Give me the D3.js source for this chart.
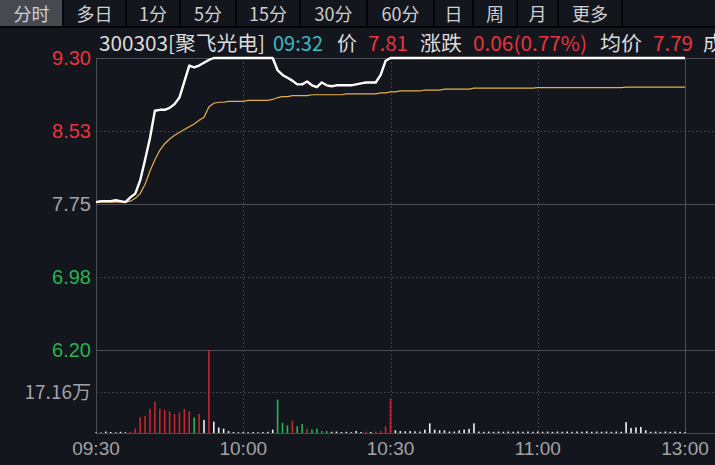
<!DOCTYPE html>
<meta charset="utf-8">
<head>
  <title>分时</title>
</head>
<style>
body { margin: 0; background: #14161d; }
svg { display: block; font-family: "Noto Sans CJK SC", "Liberation Sans", sans-serif; }
</style>
<body>
<svg width="715" height="465"></svg>
<script src="https://cdnjs.cloudflare.com/ajax/libs/d3/7.8.5/d3.min.js"></script>
<script>
// tabs
var tabs = ['分时', '多日', '1分', '5分', '15分', '30分', '60分', '日', '周', '月', '更多'];
var tabEdges = [0, 63, 126, 180, 236, 300, 367, 434, 473, 517, 558, 622];

// price axis labels
var priceTicks = [9.30, 8.53, 7.75, 6.98, 6.20];
var volTick = 17.16;
var timeLabels = ['09:30', '10:00', '10:30', '11:00', '13:00'];
var timeMinutes = [0, 30, 60, 90, 120];

// per minute price (09:30 .. 11:30)
var price = [
  7.77, 7.78, 7.78, 7.78, 7.79, 7.78, 7.77,
  7.82, 7.86, 8.00, 8.22, 8.45, 8.74,
  8.75, 8.75, 8.77, 8.81, 8.88, 9.05, 9.22, 9.20, 9.22, 9.25, 9.28,
  9.30, 9.30, 9.30, 9.30, 9.30, 9.30, 9.30, 9.30, 9.30, 9.30, 9.30, 9.30, 9.30,
  9.17, 9.12, 9.09, 9.06, 9.02, 9.02, 9.05, 9.01, 8.99, 9.04, 9.01, 9.00, 9.01, 9.01,
  9.01, 9.01, 9.02, 9.03, 9.04, 9.04, 9.04, 9.12, 9.27,
  9.30, 9.30, 9.30, 9.30, 9.30, 9.30, 9.30, 9.30, 9.30, 9.30, 9.30, 9.30, 9.30, 9.30, 9.30,
  9.30, 9.30, 9.30, 9.30, 9.30, 9.30, 9.30, 9.30, 9.30, 9.30, 9.30, 9.30, 9.30, 9.30, 9.30,
  9.30, 9.30, 9.30, 9.30, 9.30, 9.30, 9.30, 9.30, 9.30, 9.30, 9.30, 9.30, 9.30, 9.30, 9.30,
  9.30, 9.30, 9.30, 9.30, 9.30, 9.30, 9.30, 9.30, 9.30, 9.30, 9.30, 9.30, 9.30, 9.30, 9.30,
  9.30
];

// per minute average price
var avgPrice = [
  7.77, 7.77, 7.77, 7.77, 7.77, 7.77, 7.77,
  7.78, 7.81, 7.86, 7.96, 8.10, 8.22,
  8.32, 8.39, 8.44, 8.48, 8.51, 8.54, 8.57, 8.60, 8.64, 8.67, 8.78,
  8.82, 8.83, 8.83, 8.84, 8.84, 8.84, 8.84, 8.85, 8.85, 8.85, 8.85, 8.85, 8.86,
  8.88, 8.89, 8.89, 8.90, 8.90, 8.90, 8.90, 8.91, 8.91, 8.91, 8.91, 8.91, 8.91, 8.91,
  8.92, 8.92, 8.92, 8.92, 8.92, 8.92, 8.92, 8.93, 8.93,
  8.94, 8.94, 8.95, 8.95, 8.95, 8.95, 8.95, 8.96, 8.96, 8.96, 8.96, 8.97, 8.97, 8.97, 8.97,
  8.97, 8.97, 8.98, 8.98, 8.98, 8.98, 8.98, 8.98, 8.98, 8.98, 8.98, 8.98, 8.98, 8.98, 8.98,
  8.985, 8.985, 8.985, 8.985, 8.985, 8.985, 8.985, 8.985, 8.985, 8.985, 8.985, 8.985, 8.985, 8.985, 8.985,
  8.985, 8.985, 8.985, 8.99, 8.99, 8.99, 8.99, 8.99, 8.99, 8.99, 8.99, 8.99, 8.99, 8.99, 8.99,
  8.99
];

// per minute volume (万) and direction r=up g=down e=flat
var volume = [
  0.3, 0.2, 0.6, 0.4, 0.3, 0.5, 0.3,
  0.5, 1.8, 6.5, 7.1, 10.0, 13.0, 10.0, 9.6, 8.9, 7.9, 8.5, 9.9, 8.9,
  6.4, 7.9, 5.4, 34.3, 4.7, 2.3, 1.8, 0.8,
  0.4, 0.3, 0.4, 0.3, 0.4, 0.3, 0.4, 0.5, 1.4,
  13.8, 4.2, 3.2, 5.1, 2.8, 3.7, 1.8, 1.4, 1.8, 0.8, 0.8,
  0.5, 0.6, 0.4, 0.5, 0.3, 0.8, 0.4, 0.5, 0.4, 0.6, 0.9, 2.8, 14.1,
  1.1, 0.8, 0.7, 0.8, 0.7, 0.6, 1.4, 4.0, 1.4, 1.1, 1.1, 0.6, 0.6, 1.1, 1.4, 1.7, 4.0,
  0.6, 0.5, 0.6, 0.5, 0.6, 0.5, 0.6, 0.5, 0.6, 0.5, 0.6, 0.5, 0.6, 0.5, 0.6,
  0.5, 0.6, 0.5, 0.6, 0.5, 0.6, 0.5, 0.7, 0.5, 0.6, 0.5, 0.6, 0.5, 0.6, 0.5,
  4.5, 2.1, 2.3, 2.5, 1.1, 0.5, 0.6, 0.5, 0.6, 0.5, 0.6, 0.5, 0.4
];
var volDir = ('eeeeeee' + 'rrrrrrrrrrrrr' +
  'g' + 'r' + 'e' + 'r' + 'eeeeeeeeeeeee' + 'ggg' + 'r' + 'gg' + 'r' + 'gggg' +
  'eeeeeee' + 'r' + 'e' + 'rrrr' +
  'eeeeeeeeeeeeeeeeeeeeeeeeeeeeeeeeeeeeeeeeeeeeeeeeeeeeeeeeeeee').split('');

var RED = '#e8333f', GREEN = '#27b451', GRID = '#3a3d47';
var svg = d3.select('svg');

svg.append('rect').attr('width', 715).attr('height', 465).attr('fill', '#14161d');

// tab bar
var tabG = svg.append('g');
tabG.append('rect').attr('x', 0).attr('y', 0).attr('width', tabEdges[1]).attr('height', 26).attr('fill', '#474951');
tabs.forEach(function(t, i) {
  var cx = (tabEdges[i] + tabEdges[i + 1]) / 2;
  tabG.append('text').attr('x', cx).attr('y', 21).attr('text-anchor', 'middle')
    .attr('font-size', 18).attr('fill', '#cfcfd2').text(t);
});
tabEdges.slice(1).forEach(function(e) {
  tabG.append('rect').attr('x', e - 1).attr('y', 0).attr('width', 2).attr('height', 27).attr('fill', '#050507');
});
tabG.append('rect').attr('x', 0).attr('y', 26).attr('width', 715).attr('height', 2).attr('fill', '#050507');

// header
var header = [
  {t: '300303[聚飞光电]', x: 99, w: 166, c: '#dcdcdc'},
  {t: '09:32', x: 273, w: 50, c: '#3cb8c4'},
  {t: '价', x: 337, w: 20, c: '#dcdcdc'},
  {t: '7.81', x: 368, w: 40, c: RED},
  {t: '涨跌', x: 420, w: 42, c: '#dcdcdc'},
  {t: '0.06(0.77%)', x: 473, w: 114, c: RED},
  {t: '均价', x: 600, w: 42, c: '#dcdcdc'},
  {t: '7.79', x: 653, w: 40, c: RED},
  {t: '成', x: 703, w: 20, c: '#dcdcdc'}
];
header.forEach(function(h) {
  svg.append('text').attr('x', h.x).attr('y', 51).attr('font-size', 20).attr('fill', h.c)
    .attr('textLength', h.w).attr('lengthAdjust', 'spacingAndGlyphs').text(h.t);
});

// scales
var x = d3.scaleLinear().domain([0, 120]).range([96, 685]);
var y = d3.scaleLinear().domain([6.20, 9.30]).range([350, 58]);
var yv = d3.scaleLinear().domain([0, volTick * 2]).range([433, 350]);

// grid
var grid = svg.append('g').attr('shape-rendering', 'crispEdges');
priceTicks.forEach(function(p, i) {
  grid.append('line').attr('x1', 96).attr('x2', 715).attr('y1', Math.round(y(p)) + 0.5).attr('y2', Math.round(y(p)) + 0.5)
    .attr('stroke', i % 2 === 0 ? '#4a4d57' : GRID).attr('stroke-dasharray', i % 2 === 0 ? null : '2,2');
});
grid.append('line').attr('x1', 96).attr('x2', 715).attr('y1', Math.round(yv(volTick)) + 0.5).attr('y2', Math.round(yv(volTick)) + 0.5)
  .attr('stroke', GRID).attr('stroke-dasharray', '2,2');
grid.append('line').attr('x1', 96).attr('x2', 715).attr('y1', 433.5).attr('y2', 433.5).attr('stroke', '#4a4d57');
timeMinutes.forEach(function(m, i) {
  var solid = i === 0 || i === timeMinutes.length - 1;
  grid.append('line').attr('x1', Math.round(x(m)) + 0.5).attr('x2', Math.round(x(m)) + 0.5).attr('y1', 58).attr('y2', 433)
    .attr('stroke', solid ? '#4a4d57' : GRID).attr('stroke-dasharray', solid ? null : '2,2');
});

// y labels
priceTicks.forEach(function(p) {
  var c = p > 7.75 ? RED : (p < 7.75 ? GREEN : '#a3a3a6');
  svg.append('text').attr('x', 91).attr('y', y(p) + 7).attr('text-anchor', 'end')
    .attr('font-family', 'Liberation Sans, sans-serif').attr('font-size', 20).attr('fill', c).text(p.toFixed(2));
});
svg.append('text').attr('x', 91).attr('y', yv(volTick) + 7).attr('text-anchor', 'end')
  .attr('font-size', 19).attr('fill', '#a3a3a6').text(volTick.toFixed(2) + '万');

// x labels
timeLabels.forEach(function(t, i) {
  svg.append('text').attr('x', x(timeMinutes[i])).attr('y', 455).attr('text-anchor', 'middle')
    .attr('font-family', 'Liberation Sans, sans-serif').attr('font-size', 19).attr('fill', '#a3a3a6').text(t);
});

// volume bars
var colorOf = {r: '#c8262f', g: GREEN, e: '#f0f0f0'};
svg.append('g').selectAll('rect').data(volume).join('rect')
  .attr('x', function(d, i) { return x(i) - 0.8; })
  .attr('width', 1.6)
  .attr('y', function(d) { return yv(d); })
  .attr('height', function(d) { return yv(0) - yv(d); })
  .attr('fill', function(d, i) { return colorOf[volDir[i]]; });

// avg line
svg.append('path').datum(avgPrice)
  .attr('d', d3.line().x(function(d, i) { return x(i); }).y(function(d) { return y(d); }))
  .attr('fill', 'none').attr('stroke', '#e5b04c').attr('stroke-width', 1.2);

// price line
svg.append('path').datum(price)
  .attr('d', d3.line().x(function(d, i) { return x(i); }).y(function(d) { return y(d); }))
  .attr('fill', 'none').attr('stroke', '#ffffff').attr('stroke-width', 2.4).attr('stroke-linejoin', 'round');
</script>
</body>
</html>
